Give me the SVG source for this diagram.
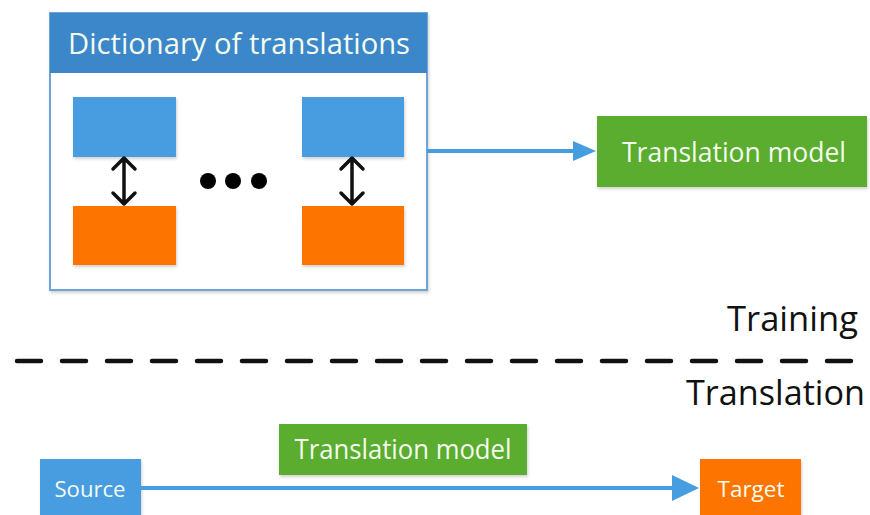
<svg xmlns="http://www.w3.org/2000/svg" width="870" height="515" viewBox="0 0 870 515">
<defs>
<style>
.t{font-family:"Open Sans","Liberation Sans",sans-serif;fill:#f4fbef}
.blk{font-family:"Open Sans","Liberation Sans",sans-serif;fill:#111}
.blue{fill:#469ddf}
.orange{fill:#fd7400}
.green{fill:#5aad2f}
.conn{stroke:#469ddf;stroke-width:4;fill:none}
.dbl{stroke:#111;stroke-width:3.5;fill:none;stroke-linecap:round;stroke-linejoin:round}
</style>
<filter id="sh" x="-10%" y="-10%" width="130%" height="140%">
<feDropShadow dx="1" dy="2" stdDeviation="1.5" flood-color="#000" flood-opacity="0.18"/>
</filter>
</defs>
<rect width="870" height="515" fill="#fff"/>
<g id="dictionary">
<rect x="50" y="13" width="377" height="277" fill="#fff" stroke="#6fa3d6" stroke-width="2" filter="url(#sh)"/>
<rect x="50" y="13" width="377" height="60" fill="#3b87c9"/>
<text class="t" x="239" y="54" font-size="29" text-anchor="middle" textLength="342" lengthAdjust="spacingAndGlyphs">Dictionary of translations</text>
</g>
<g id="src1"><rect class="blue" x="73" y="97" width="103" height="60" filter="url(#sh)"/></g>
<g id="tgt1"><rect class="orange" x="73" y="206" width="103" height="59" filter="url(#sh)"/></g>
<g id="src2"><rect class="blue" x="302" y="97" width="102" height="60" filter="url(#sh)"/></g>
<g id="tgt2"><rect class="orange" x="302" y="206" width="102" height="59" filter="url(#sh)"/></g>
<g id="ellipsis">
<circle cx="208" cy="181" r="8" fill="#000"/>
<circle cx="233" cy="181" r="8" fill="#000"/>
<circle cx="259" cy="181" r="8" fill="#000"/>
</g>
<g id="model-train"><rect class="green" x="597" y="116" width="270" height="71" filter="url(#sh)"/>
<text class="t" x="734" y="162" font-size="27" text-anchor="middle" textLength="224" lengthAdjust="spacingAndGlyphs">Translation model</text></g>
<g id="label-training"><text class="blk" x="858" y="331" font-size="34" text-anchor="end" textLength="131" lengthAdjust="spacingAndGlyphs">Training</text></g>
<g id="label-translation"><text class="blk" x="865" y="405" font-size="34" text-anchor="end" textLength="179" lengthAdjust="spacingAndGlyphs">Translation</text></g>
<g id="source"><rect class="blue" x="40" y="459" width="101" height="60" filter="url(#sh)"/>
<text class="t" x="90" y="497" font-size="22" text-anchor="middle" textLength="71" lengthAdjust="spacingAndGlyphs">Source</text></g>
<g id="target"><rect class="orange" x="700" y="459" width="101" height="60" filter="url(#sh)"/>
<text class="t" x="751" y="497" font-size="22" text-anchor="middle" textLength="67" lengthAdjust="spacingAndGlyphs">Target</text></g>
<g id="model-apply"><rect class="green" x="279" y="424" width="248" height="51" filter="url(#sh)"/>
<text class="t" x="403" y="459" font-size="27" text-anchor="middle" textLength="217" lengthAdjust="spacingAndGlyphs">Translation model</text></g>
<g id="connectors">
<path class="conn" d="M427,151 H576"/>
<path d="M573,141 L596,151 L573,161 Z" fill="#469ddf"/>
<path class="conn" d="M141,488 H676"/>
<path d="M672,475 L699,488 L672,501 Z" fill="#469ddf"/>
<path class="dbl" d="M124,158 V204 M113,169 L124,158 L135,169 M113,193 L124,204 L135,193"/>
<path class="dbl" d="M352,158 V204 M341,169 L352,158 L363,169 M341,193 L352,204 L363,193"/>
<path d="M17,361 H870" stroke="#111" stroke-width="4.5" stroke-linecap="round" stroke-dasharray="24,21"/>
</g>
</svg>
